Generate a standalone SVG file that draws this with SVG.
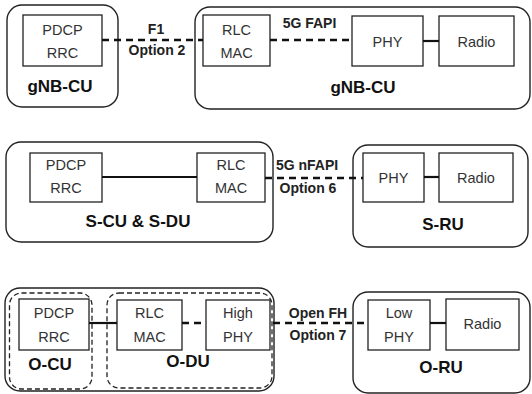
<svg xmlns="http://www.w3.org/2000/svg" width="532" height="394" viewBox="0 0 532 394">
  <style>
    .outer { fill: #fff; stroke: #222; stroke-width: 1.4; }
    .grp { fill: none; stroke: #222; stroke-width: 1.3; stroke-dasharray: 5 3; }
    .blk { fill: #fff; stroke: #222; stroke-width: 1.3; }
    .txt { font-family: "Liberation Sans", Arial, sans-serif; font-size: 14.5px; fill: #333; text-anchor: middle; }
    .ttl { font-family: "Liberation Sans", Arial, sans-serif; font-size: 17px; font-weight: bold; fill: #111; text-anchor: middle; }
    .lbl { font-family: "Liberation Sans", Arial, sans-serif; font-size: 14px; font-weight: bold; fill: #222; text-anchor: middle; }
    .solid { stroke: #111; stroke-width: 2.2; fill: none; }
    .dash { stroke: #111; stroke-width: 2.6; fill: none; stroke-dasharray: 7 5; }
  </style>
  <rect width="532" height="394" fill="#fff"/>

  <!-- Row 1: gNB-CU + gNB-DU -->
  <g id="gnb-cu-left">
    <rect class="outer" x="7" y="5" width="111" height="102" rx="15"/>
    <text class="ttl" x="60" y="92">gNB-CU</text>
  </g>
  <g id="gnb-right">
    <rect class="outer" x="195" y="7" width="335" height="102" rx="15"/>
    <text class="ttl" x="363" y="93">gNB-CU</text>
  </g>
  <g id="r1-pdcp">
    <rect class="blk" x="23" y="15" width="79" height="51"/>
    <text class="txt" x="62.5" y="35">PDCP</text>
    <text class="txt" x="62.5" y="58">RRC</text>
  </g>
  <g id="r1-rlc">
    <rect class="blk" x="203" y="15" width="67" height="51"/>
    <text class="txt" x="236.5" y="35">RLC</text>
    <text class="txt" x="236.5" y="58">MAC</text>
  </g>
  <g id="r1-phy">
    <rect class="blk" x="352" y="16" width="71" height="50"/>
    <text class="txt" x="387.5" y="47">PHY</text>
  </g>
  <g id="r1-radio">
    <rect class="blk" x="439" y="16" width="75" height="50"/>
    <text class="txt" x="476.5" y="47">Radio</text>
  </g>

  <!-- Row 2: S-CU & S-DU + S-RU -->
  <g id="s-cu-du">
    <rect class="outer" x="6" y="142" width="267" height="100" rx="15"/>
    <text class="ttl" x="138" y="227">S-CU &amp; S-DU</text>
  </g>
  <g id="s-ru">
    <rect class="outer" x="353" y="145" width="175" height="102" rx="15"/>
    <text class="ttl" x="443" y="230">S-RU</text>
  </g>
  <g id="r2-pdcp">
    <rect class="blk" x="30" y="153" width="72" height="49"/>
    <text class="txt" x="66" y="170">PDCP</text>
    <text class="txt" x="66" y="193">RRC</text>
  </g>
  <g id="r2-rlc">
    <rect class="blk" x="197" y="153" width="68" height="49"/>
    <text class="txt" x="231" y="170">RLC</text>
    <text class="txt" x="231" y="193">MAC</text>
  </g>
  <g id="r2-phy">
    <rect class="blk" x="363" y="153" width="61" height="49"/>
    <text class="txt" x="393.5" y="183">PHY</text>
  </g>
  <g id="r2-radio">
    <rect class="blk" x="439" y="153" width="74" height="49"/>
    <text class="txt" x="476" y="183">Radio</text>
  </g>

  <!-- Row 3: O-CU / O-DU + O-RU -->
  <g id="o-ran">
    <rect class="outer" x="5" y="288" width="269" height="103" rx="15"/>
  </g>
  <g id="o-cu">
    <rect class="grp" x="9.5" y="293" width="82.5" height="96" rx="12"/>
    <text class="ttl" x="50" y="370">O-CU</text>
  </g>
  <g id="o-du">
    <rect class="grp" x="107" y="293" width="165" height="95" rx="12"/>
    <text class="ttl" x="188" y="367">O-DU</text>
  </g>
  <g id="o-ru">
    <rect class="outer" x="353" y="292" width="177" height="101" rx="15"/>
    <text class="ttl" x="441" y="373">O-RU</text>
  </g>
  <g id="r3-pdcp">
    <rect class="blk" x="19" y="299" width="70" height="51"/>
    <text class="txt" x="54" y="318">PDCP</text>
    <text class="txt" x="54" y="342">RRC</text>
  </g>
  <g id="r3-rlc">
    <rect class="blk" x="117" y="300" width="65" height="50"/>
    <text class="txt" x="149.5" y="318">RLC</text>
    <text class="txt" x="149.5" y="342">MAC</text>
  </g>
  <g id="r3-highphy">
    <rect class="blk" x="206" y="300" width="64" height="50"/>
    <text class="txt" x="238" y="318">High</text>
    <text class="txt" x="238" y="342">PHY</text>
  </g>
  <g id="r3-lowphy">
    <rect class="blk" x="368" y="300" width="62" height="50"/>
    <text class="txt" x="399" y="318">Low</text>
    <text class="txt" x="399" y="342">PHY</text>
  </g>
  <g id="r3-radio">
    <rect class="blk" x="446" y="299" width="73" height="51"/>
    <text class="txt" x="482.5" y="329">Radio</text>
  </g>

  <!-- Connectors and interface labels -->
  <g id="connectors">
    <line class="dash" x1="102" y1="40" x2="203" y2="40"/>
    <line class="dash" x1="270" y1="40" x2="352" y2="40"/>
    <line class="solid" x1="423" y1="41" x2="439" y2="41"/>

    <line class="solid" x1="102" y1="177" x2="197" y2="177"/>
    <line class="dash" x1="265" y1="178" x2="363" y2="178"/>
    <line class="solid" x1="424" y1="177" x2="439" y2="177"/>

    <line class="solid" x1="89" y1="323" x2="117" y2="323"/>
    <line class="dash" x1="182" y1="323" x2="206" y2="323"/>
    <line class="dash" x1="273" y1="323" x2="368" y2="323"/>
    <line class="solid" x1="430" y1="323" x2="446" y2="323"/>

    <text class="lbl" x="156" y="34">F1</text>
    <text class="lbl" x="157" y="55">Option 2</text>
    <text class="lbl" x="309.5" y="28">5G FAPI</text>
    <text class="lbl" x="307" y="170">5G nFAPI</text>
    <text class="lbl" x="308" y="193">Option 6</text>
    <text class="lbl" x="318" y="318">Open FH</text>
    <text class="lbl" x="318" y="340">Option 7</text>
  </g>
</svg>
